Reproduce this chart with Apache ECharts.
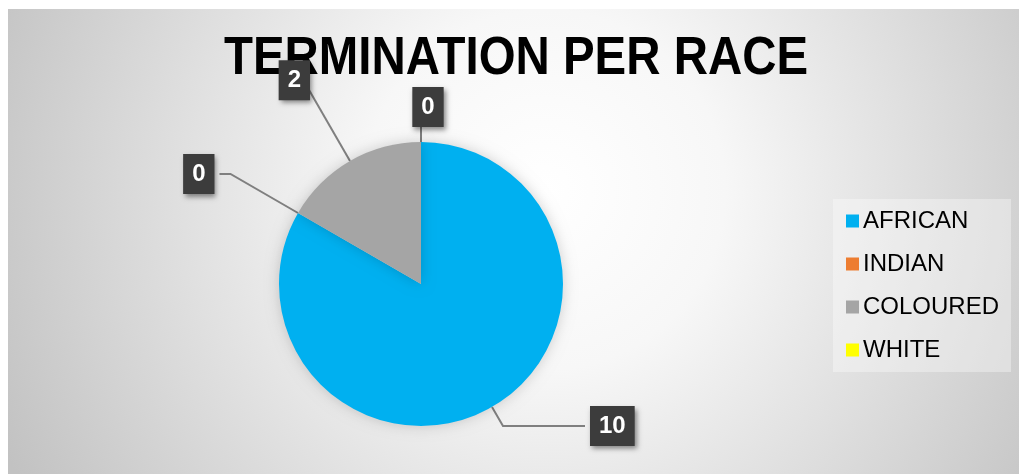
<!DOCTYPE html>
<html>
<head>
<meta charset="utf-8">
<script src="https://cdn.jsdelivr.net/npm/echarts@6/dist/echarts.min.js"></script>
<style>
  html, body { margin: 0; padding: 0; background: #fff; }
  #main { width: 1019px; height: 474px; }
</style>
</head>
<body>
<div id="main"></div>
<script>
// data
const chartTitle = 'TERMINATION PER RACE';
const races = ['AFRICAN', 'INDIAN', 'COLOURED', 'WHITE'];
const terminations = [10, 0, 2, 0];
const raceColors = ['#00B0F0', '#ED7D31', '#A5A5A5', '#FFFF00'];

// leader line lengths per slice (layout only)
const lineLen = [
    { length: 22, length2: 82 },
    { length: 78, length2: 11 },
    { length: 92, length2: 0 },
    { length: 15, length2: 0 }
];

let dom = document.getElementById('main');
let myChart = echarts.init(dom, null, { renderer: 'canvas' });

let pieData = races.map(function (name, i) {
    return {
        name: name,
        value: terminations[i],
        itemStyle: { color: raceColors[i] },
        labelLine: lineLen[i]
    };
});

let option = {
    animation: false,
    graphic: [
        {
            type: 'rect',
            z: -10,
            shape: { x: 8, y: 9, width: 1011, height: 465 },
            style: {
                fill: new echarts.graphic.RadialGradient(545, 190, 600, [
                    { offset: 0, color: '#ffffff' },
                    { offset: 0.3, color: '#f7f7f7' },
                    { offset: 1, color: '#c2c2c2' }
                ], true)
            }
        },
        {
            // title drawn as graphic so it can be squeezed like a narrow font
            type: 'text',
            z: 0,
            x: 516,
            y: 59,
            scaleX: 0.895,
            style: {
                text: chartTitle,
                font: 'bold 53px "Liberation Sans", Arial, sans-serif',
                fill: '#000',
                textAlign: 'center',
                textVerticalAlign: 'middle',
                verticalAlign: 'middle',
                shadowColor: 'rgba(0,0,0,0.3)',
                shadowBlur: 3,
                shadowOffsetX: 2,
                shadowOffsetY: 2
            }
        }
    ],
    legend: {
        orient: 'vertical',
        left: 833,
        top: 199,
        padding: [10, 12, 10, 13],
        backgroundColor: 'rgba(255,255,255,0.35)',
        itemWidth: 13,
        itemHeight: 13,
        itemGap: 19,
        itemStyle: { borderWidth: 0 },
        icon: 'rect',
        data: races,
        textStyle: {
            fontFamily: '"Liberation Sans", Arial, sans-serif',
            fontSize: 24,
            lineHeight: 24,
            color: '#000',
            padding: [0, 0, 0, -1]
        }
    },
    series: [
        {
            type: 'pie',
            z: 5,
            center: [421, 284],
            radius: 142,
            startAngle: 90,
            clockwise: true,
            avoidLabelOverlap: false,
            minShowLabelAngle: 0,
            itemStyle: {
                shadowBlur: 14,
                shadowColor: 'rgba(0,0,0,0.18)'
            },
            label: {
                show: true,
                position: 'outside',
                formatter: '{c}',
                fontFamily: '"Liberation Sans", Arial, sans-serif',
                fontWeight: 'bold',
                fontSize: 24,
                color: '#fff',
                backgroundColor: '#3c3c3c',
                padding: [8, 9, 8, 9],
                shadowColor: 'rgba(0,0,0,0.45)',
                shadowBlur: 5,
                shadowOffsetX: 2,
                shadowOffsetY: 3
            },
            labelLayout: function (params) {
                if (params.dataIndex === 3) {
                    return { align: 'center', verticalAlign: 'bottom', dx: 12 };
                }
                if (params.dataIndex === 2) {
                    return { dx: 11, dy: -1 };
                }
                return {};
            },
            labelLine: {
                show: true,
                smooth: false,
                lineStyle: { color: '#7f7f7f', width: 2 }
            },
            emphasis: { disabled: true },
            data: pieData
        }
    ]
};

myChart.setOption(option);
</script>
</body>
</html>
